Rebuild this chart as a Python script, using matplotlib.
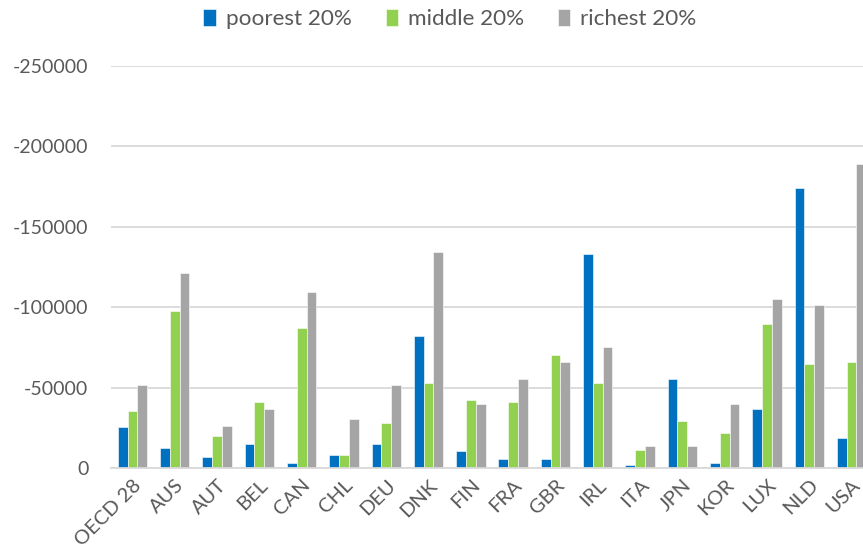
import matplotlib
matplotlib.use("Agg")
import matplotlib.pyplot as plt
import numpy as np

categories = ["OECD 28", "AUS", "AUT", "BEL", "CAN", "CHL", "DEU", "DNK", "FIN",
              "FRA", "GBR", "IRL", "ITA", "JPN", "KOR", "LUX", "NLD", "USA"]
poorest = [-25200, -12200, -7000, -14700, -2900, -8100, -14700, -81800, -10700,
           -5600, -5600, -133100, -1700, -55600, -2900, -37000, -174000, -18800]
middle = [-35700, -97500, -20000, -41100, -87200, -8100, -27900, -52900, -42400,
          -41100, -70000, -52900, -11000, -29300, -21500, -89700, -64700, -65900]
richest = [-51400, -121100, -26400, -37000, -109300, -30600, -51700, -134300, -39700,
           -55400, -66100, -75200, -13400, -13400, -39700, -105400, -101400, -189300]
series_names = ["poorest 20%", "middle 20%", "richest 20%"]
yticks = [0, -50000, -100000, -150000, -200000, -250000]

colors = ["#0070C0", "#92D050", "#A5A5A5"]
txt = "#595959"
plt.rcParams['font.family'] = ['Lato', 'DejaVu Sans']

fig = plt.figure(figsize=(8.63, 5.56), dpi=100)
ax = fig.add_axes([111.3 / 863, 88 / 556, (872.7 - 111.3) / 863, (468 - 66) / 556])

x = np.arange(len(categories))
w = 0.232
for i, (vals, name) in enumerate(zip([poorest, middle, richest], series_names)):
    ax.bar(x + (i - 1) * w, vals, width=w, color=colors[i], label=name,
           edgecolor="white", linewidth=0.4, zorder=3)

ax.set_xlim(-0.5, len(categories) - 0.5)
ax.set_ylim(0, -250000)
ax.set_yticks(yticks)
ax.set_yticklabels([str(v) for v in yticks], fontsize=14)
ax.set_xticks(x)
ax.set_xticklabels(categories, rotation=45, ha="right", rotation_mode="anchor",
                   fontsize=14.5)
ax.tick_params(axis="both", length=0, colors=txt)
ax.tick_params(axis="y", pad=16.5)
ax.tick_params(axis="x", pad=6)
ax.grid(axis="y", color="#D9D9D9", linewidth=1.3, zorder=0)
for s in ["top", "right", "left"]:
    ax.spines[s].set_visible(False)
ax.spines["bottom"].set_color("#D9D9D9")
ax.spines["bottom"].set_linewidth(1.3)
ax.spines["bottom"].set_zorder(4)

fig.legend(loc="center", bbox_to_anchor=(450 / 863, 1 - 19 / 556), ncol=3,
           frameon=False, fontsize=16.2, labelcolor=txt, handlelength=0.55,
           handleheight=0.8, handletextpad=0.45, columnspacing=1.5)

fig.savefig("out.png", dpi=100)
